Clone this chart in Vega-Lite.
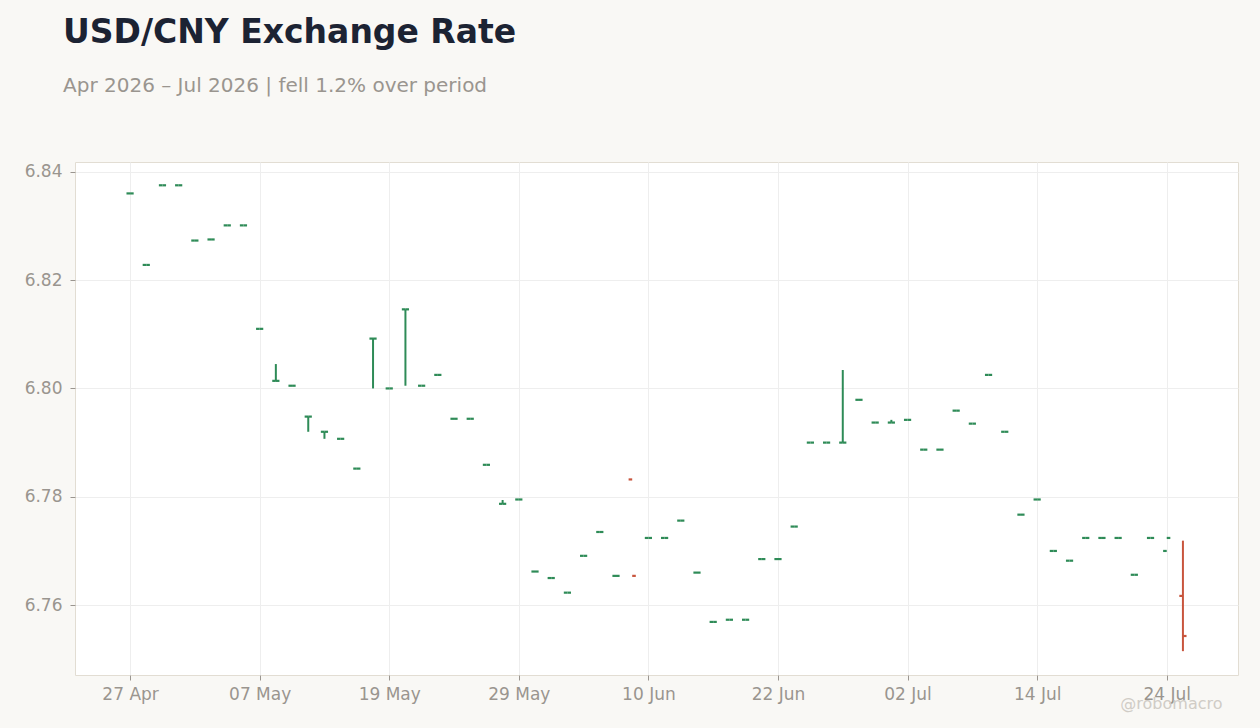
{
  "$schema": "https://vega.github.io/schema/vega-lite/v6.json",
  "autosize": "none",
  "width": 1163,
  "height": 513,
  "padding": {"left": 75, "top": 162, "right": 22, "bottom": 53},
  "background": "#f9f8f5",
  "title": {
    "text": "USD/CNY Exchange Rate",
    "subtitle": "Apr 2026 – Jul 2026 | fell 1.2% over period",
    "anchor": "start",
    "frame": "group",
    "dx": -12,
    "offset": 66,
    "font": "DejaVu Sans",
    "fontSize": 33,
    "fontWeight": "bold",
    "color": "#1c2333",
    "subtitleFont": "DejaVu Sans",
    "subtitleFontSize": 20,
    "subtitleColor": "#9a958f",
    "subtitlePadding": 26
  },
  "config": {
    "view": {"fill": "#ffffff", "stroke": "#e2ddd3", "strokeWidth": 1},
    "axis": {
      "labelFont": "DejaVu Sans",
      "labelFontSize": 17,
      "labelColor": "#9a958f",
      "tickColor": "#9a958f",
      "tickSize": 5,
      "domain": false,
      "gridColor": "#eeeeee",
      "gridWidth": 1
    }
  },
  "data": {
    "values": [
      {"i": 0, "date": "2026-04-27", "open": 6.8360, "high": 6.8360, "low": 6.8360, "close": 6.8360},
      {"i": 1, "date": "2026-04-28", "open": 6.8228, "high": 6.8228, "low": 6.8228, "close": 6.8228},
      {"i": 2, "date": "2026-04-29", "open": 6.8375, "high": 6.8375, "low": 6.8375, "close": 6.8375},
      {"i": 3, "date": "2026-04-30", "open": 6.8375, "high": 6.8375, "low": 6.8375, "close": 6.8375},
      {"i": 4, "date": "2026-05-01", "open": 6.8273, "high": 6.8273, "low": 6.8273, "close": 6.8273},
      {"i": 5, "date": "2026-05-04", "open": 6.8275, "high": 6.8275, "low": 6.8275, "close": 6.8275},
      {"i": 6, "date": "2026-05-05", "open": 6.8301, "high": 6.8301, "low": 6.8301, "close": 6.8301},
      {"i": 7, "date": "2026-05-06", "open": 6.8301, "high": 6.8301, "low": 6.8301, "close": 6.8301},
      {"i": 8, "date": "2026-05-07", "open": 6.8110, "high": 6.8110, "low": 6.8110, "close": 6.8110},
      {"i": 9, "date": "2026-05-08", "open": 6.8014, "high": 6.8045, "low": 6.8014, "close": 6.8014},
      {"i": 10, "date": "2026-05-11", "open": 6.8005, "high": 6.8005, "low": 6.8005, "close": 6.8005},
      {"i": 11, "date": "2026-05-12", "open": 6.7948, "high": 6.7948, "low": 6.7920, "close": 6.7948},
      {"i": 12, "date": "2026-05-13", "open": 6.7920, "high": 6.7920, "low": 6.7907, "close": 6.7920},
      {"i": 13, "date": "2026-05-14", "open": 6.7907, "high": 6.7907, "low": 6.7907, "close": 6.7907},
      {"i": 14, "date": "2026-05-15", "open": 6.7852, "high": 6.7852, "low": 6.7852, "close": 6.7852},
      {"i": 15, "date": "2026-05-18", "open": 6.8092, "high": 6.8092, "low": 6.8000, "close": 6.8092},
      {"i": 16, "date": "2026-05-19", "open": 6.8000, "high": 6.8000, "low": 6.8000, "close": 6.8000},
      {"i": 17, "date": "2026-05-20", "open": 6.8146, "high": 6.8146, "low": 6.8005, "close": 6.8146},
      {"i": 18, "date": "2026-05-21", "open": 6.8005, "high": 6.8005, "low": 6.8005, "close": 6.8005},
      {"i": 19, "date": "2026-05-22", "open": 6.8025, "high": 6.8025, "low": 6.8025, "close": 6.8025},
      {"i": 20, "date": "2026-05-25", "open": 6.7944, "high": 6.7944, "low": 6.7944, "close": 6.7944},
      {"i": 21, "date": "2026-05-26", "open": 6.7944, "high": 6.7944, "low": 6.7944, "close": 6.7944},
      {"i": 22, "date": "2026-05-27", "open": 6.7859, "high": 6.7859, "low": 6.7859, "close": 6.7859},
      {"i": 23, "date": "2026-05-28", "open": 6.7787, "high": 6.7794, "low": 6.7787, "close": 6.7787},
      {"i": 24, "date": "2026-05-29", "open": 6.7795, "high": 6.7795, "low": 6.7795, "close": 6.7795},
      {"i": 25, "date": "2026-06-01", "open": 6.7662, "high": 6.7662, "low": 6.7662, "close": 6.7662},
      {"i": 26, "date": "2026-06-02", "open": 6.7650, "high": 6.7650, "low": 6.7650, "close": 6.7650},
      {"i": 27, "date": "2026-06-03", "open": 6.7623, "high": 6.7623, "low": 6.7623, "close": 6.7623},
      {"i": 28, "date": "2026-06-04", "open": 6.7691, "high": 6.7691, "low": 6.7691, "close": 6.7691},
      {"i": 29, "date": "2026-06-05", "open": 6.7735, "high": 6.7735, "low": 6.7735, "close": 6.7735},
      {"i": 30, "date": "2026-06-08", "open": 6.7654, "high": 6.7654, "low": 6.7654, "close": 6.7654},
      {"i": 31, "date": "2026-06-09", "open": 6.7832, "high": 6.7832, "low": 6.7832, "close": 6.7654},
      {"i": 32, "date": "2026-06-10", "open": 6.7724, "high": 6.7724, "low": 6.7724, "close": 6.7724},
      {"i": 33, "date": "2026-06-11", "open": 6.7724, "high": 6.7724, "low": 6.7724, "close": 6.7724},
      {"i": 34, "date": "2026-06-12", "open": 6.7756, "high": 6.7756, "low": 6.7756, "close": 6.7756},
      {"i": 35, "date": "2026-06-15", "open": 6.7660, "high": 6.7660, "low": 6.7660, "close": 6.7660},
      {"i": 36, "date": "2026-06-16", "open": 6.7569, "high": 6.7569, "low": 6.7569, "close": 6.7569},
      {"i": 37, "date": "2026-06-17", "open": 6.7573, "high": 6.7573, "low": 6.7573, "close": 6.7573},
      {"i": 38, "date": "2026-06-18", "open": 6.7573, "high": 6.7573, "low": 6.7573, "close": 6.7573},
      {"i": 39, "date": "2026-06-19", "open": 6.7685, "high": 6.7685, "low": 6.7685, "close": 6.7685},
      {"i": 40, "date": "2026-06-22", "open": 6.7685, "high": 6.7685, "low": 6.7685, "close": 6.7685},
      {"i": 41, "date": "2026-06-23", "open": 6.7745, "high": 6.7745, "low": 6.7745, "close": 6.7745},
      {"i": 42, "date": "2026-06-24", "open": 6.7900, "high": 6.7900, "low": 6.7900, "close": 6.7900},
      {"i": 43, "date": "2026-06-25", "open": 6.7900, "high": 6.7900, "low": 6.7900, "close": 6.7900},
      {"i": 44, "date": "2026-06-26", "open": 6.7900, "high": 6.8034, "low": 6.7900, "close": 6.7900},
      {"i": 45, "date": "2026-06-29", "open": 6.7979, "high": 6.7979, "low": 6.7979, "close": 6.7979},
      {"i": 46, "date": "2026-06-30", "open": 6.7937, "high": 6.7937, "low": 6.7937, "close": 6.7937},
      {"i": 47, "date": "2026-07-01", "open": 6.7937, "high": 6.7942, "low": 6.7937, "close": 6.7937},
      {"i": 48, "date": "2026-07-02", "open": 6.7942, "high": 6.7942, "low": 6.7942, "close": 6.7942},
      {"i": 49, "date": "2026-07-03", "open": 6.7887, "high": 6.7887, "low": 6.7887, "close": 6.7887},
      {"i": 50, "date": "2026-07-06", "open": 6.7887, "high": 6.7887, "low": 6.7887, "close": 6.7887},
      {"i": 51, "date": "2026-07-07", "open": 6.7959, "high": 6.7959, "low": 6.7959, "close": 6.7959},
      {"i": 52, "date": "2026-07-08", "open": 6.7935, "high": 6.7935, "low": 6.7935, "close": 6.7935},
      {"i": 53, "date": "2026-07-09", "open": 6.8025, "high": 6.8025, "low": 6.8025, "close": 6.8025},
      {"i": 54, "date": "2026-07-10", "open": 6.7920, "high": 6.7920, "low": 6.7920, "close": 6.7920},
      {"i": 55, "date": "2026-07-13", "open": 6.7767, "high": 6.7767, "low": 6.7767, "close": 6.7767},
      {"i": 56, "date": "2026-07-14", "open": 6.7795, "high": 6.7795, "low": 6.7795, "close": 6.7795},
      {"i": 57, "date": "2026-07-15", "open": 6.7700, "high": 6.7700, "low": 6.7700, "close": 6.7700},
      {"i": 58, "date": "2026-07-16", "open": 6.7682, "high": 6.7682, "low": 6.7682, "close": 6.7682},
      {"i": 59, "date": "2026-07-17", "open": 6.7724, "high": 6.7724, "low": 6.7724, "close": 6.7724},
      {"i": 60, "date": "2026-07-20", "open": 6.7724, "high": 6.7724, "low": 6.7724, "close": 6.7724},
      {"i": 61, "date": "2026-07-21", "open": 6.7724, "high": 6.7724, "low": 6.7724, "close": 6.7724},
      {"i": 62, "date": "2026-07-22", "open": 6.7656, "high": 6.7656, "low": 6.7656, "close": 6.7656},
      {"i": 63, "date": "2026-07-23", "open": 6.7724, "high": 6.7724, "low": 6.7724, "close": 6.7724},
      {"i": 64, "date": "2026-07-24", "open": 6.7700, "high": 6.7700, "low": 6.7700, "close": 6.7724},
      {"i": 65, "date": "2026-07-27", "open": 6.7617, "high": 6.7719, "low": 6.7515, "close": 6.7543}
    ]
  },
  "encoding": {
    "x": {
      "field": "i",
      "type": "quantitative",
      "scale": {"domain": [-3.4, 68.4], "nice": false, "zero": false},
      "axis": {
        "title": "@robomacro",
        "titleFont": "DejaVu Sans",
        "titleFontSize": 16,
        "titleFontWeight": "normal",
        "titleColor": "#d0ccc6",
        "titleAlign": "right",
        "titleAnchor": "end",
        "titleBaseline": "alphabetic",
        "titleX": 1147,
        "titleY": 33,
        "values": [0, 8, 16, 24, 32, 40, 48, 56, 64],
        "labelExpr": "['27 Apr', '07 May', '19 May', '29 May', '10 Jun', '22 Jun', '02 Jul', '14 Jul', '24 Jul'][round(datum.value / 8)]",
        "labelPadding": 6,
        "grid": true
      }
    },
    "color": {
      "condition": {"test": "datum.close < datum.open", "value": "#c8553d"},
      "value": "#2e8b57"
    }
  },
  "layer": [
    {
      "mark": {"type": "rule", "strokeWidth": 2},
      "encoding": {
        "y": {
          "field": "low",
          "type": "quantitative",
          "scale": {"domain": [6.7471, 6.8418], "nice": false, "zero": false},
          "axis": {
            "title": null,
            "values": [6.76, 6.78, 6.80, 6.82, 6.84],
            "format": ".2f",
            "labelPadding": 8,
            "grid": true
          }
        },
        "y2": {"field": "high"}
      }
    },
    {
      "mark": {"type": "tick", "orient": "horizontal", "size": 3.6, "thickness": 2.2, "xOffset": -1.8, "opacity": 1},
      "encoding": {"y": {"field": "open", "type": "quantitative"}}
    },
    {
      "mark": {"type": "tick", "orient": "horizontal", "size": 3.6, "thickness": 2.2, "xOffset": 1.8, "opacity": 1},
      "encoding": {"y": {"field": "close", "type": "quantitative"}}
    }
  ]
}
